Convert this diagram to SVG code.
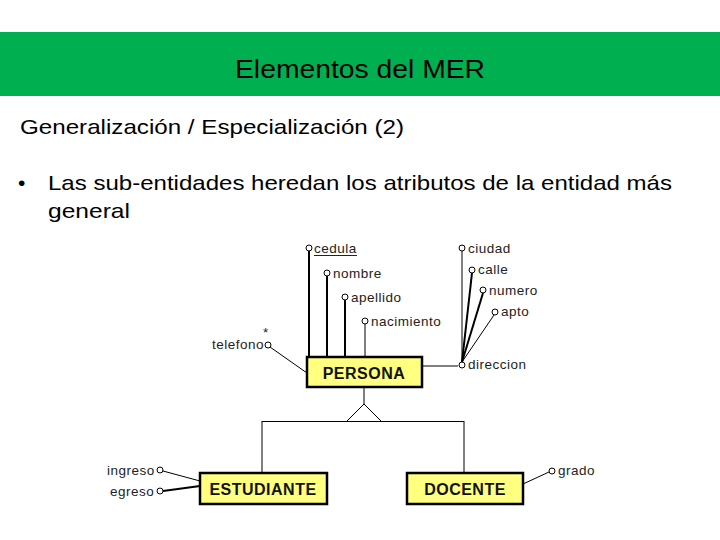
<svg xmlns="http://www.w3.org/2000/svg" width="720" height="540" viewBox="0 0 720 540">
<style>
.ttl{font-family:"Liberation Sans",Arial,sans-serif;fill:#000}
.lbl{font-family:"Liberation Sans",Arial,sans-serif;font-size:13.5px;letter-spacing:0.5px;fill:#222}
.ent{font-family:"Liberation Sans",Arial,sans-serif;font-size:16px;font-weight:bold;letter-spacing:0.5px;fill:#111;text-anchor:middle}
.box{fill:#FFFF80;stroke:#000;stroke-width:2.5}
.ln{stroke:#000;stroke-width:1;fill:none}
.lnb{stroke:#000;stroke-width:2;fill:none}
.at{fill:#fff;stroke:#000;stroke-width:1}
</style>
<rect x="0" y="0" width="720" height="540" fill="#fff"/>
<rect x="0" y="32" width="720" height="64" fill="#00B050"/>
<text class="ttl" x="360" y="78" font-size="26" text-anchor="middle" textLength="250" lengthAdjust="spacingAndGlyphs">Elementos del MER</text>
<text class="ttl" x="20" y="134" font-size="21" textLength="384" lengthAdjust="spacingAndGlyphs">Generalización / Especialización (2)</text>
<text class="ttl" x="18" y="190" font-size="21">•</text>
<text class="ttl" x="48" y="190" font-size="21" textLength="624" lengthAdjust="spacingAndGlyphs">Las sub-entidades heredan los atributos de la entidad más</text>
<text class="ttl" x="48" y="218" font-size="21" textLength="82" lengthAdjust="spacingAndGlyphs">general</text>

<g id="connectors">
  <line class="lnb" x1="309" y1="251" x2="309" y2="357"/>
  <line class="lnb" x1="327" y1="276" x2="327" y2="357"/>
  <line class="lnb" x1="345" y1="300" x2="345" y2="357"/>
  <line class="ln" x1="365" y1="324" x2="365" y2="357"/>
  <line class="ln" x1="270" y1="347" x2="307" y2="373"/>
  <line class="ln" x1="422" y1="366" x2="458" y2="366"/>
  <line class="ln" x1="462" y1="251" x2="462" y2="362"/>
  <line class="lnb" x1="472" y1="273" x2="462" y2="362" stroke-width="1.6"/>
  <line class="lnb" x1="483" y1="293" x2="462" y2="362" stroke-width="1.4"/>
  <line class="ln" x1="494" y1="315" x2="462" y2="362"/>
  <line class="ln" x1="364" y1="387" x2="364" y2="404"/>
  <polyline class="ln" points="347,421 364,404 381,421"/>
  <line class="ln" x1="262" y1="421.5" x2="464" y2="421.5"/>
  <line class="ln" x1="262" y1="421" x2="262" y2="473"/>
  <line class="ln" x1="464" y1="421" x2="464" y2="473"/>
  <line class="ln" x1="163" y1="471" x2="200" y2="481"/>
  <line class="lnb" x1="163" y1="491" x2="200" y2="486" stroke-width="1.5"/>
  <line class="ln" x1="523" y1="484" x2="549" y2="472"/>
</g>

<g id="persona">
  <rect class="box" x="307" y="357" width="115" height="30"/>
  <text class="ent" x="364" y="379">PERSONA</text>
</g>
<g id="estudiante">
  <rect class="box" x="200" y="473" width="127" height="31"/>
  <text class="ent" x="263" y="495">ESTUDIANTE</text>
</g>
<g id="docente">
  <rect class="box" x="407" y="473" width="116" height="31"/>
  <text class="ent" x="465" y="495">DOCENTE</text>
</g>

<g id="attr-cedula">
  <circle class="at" cx="309" cy="248" r="3"/>
  <text class="lbl" x="314" y="253">cedula</text>
  <line x1="314" y1="255.5" x2="357" y2="255.5" stroke="#222" stroke-width="1"/>
</g>
<g id="attr-nombre">
  <circle class="at" cx="327" cy="273" r="3"/>
  <text class="lbl" x="333" y="278">nombre</text>
</g>
<g id="attr-apellido">
  <circle class="at" cx="345" cy="297" r="3"/>
  <text class="lbl" x="351" y="302">apellido</text>
</g>
<g id="attr-nacimiento">
  <circle class="at" cx="365" cy="321" r="3"/>
  <text class="lbl" x="371" y="326">nacimiento</text>
</g>
<g id="attr-telefono">
  <circle class="at" cx="268" cy="345" r="3"/>
  <text class="lbl" x="212" y="349" font-size="13" letter-spacing="0">telefono</text>
  <text class="lbl" x="263" y="337" font-size="8" letter-spacing="0">*</text>
</g>
<g id="attr-direccion">
  <circle class="at" cx="462" cy="365" r="3"/>
  <text class="lbl" x="468" y="369">direccion</text>
</g>
<g id="attr-ciudad">
  <circle class="at" cx="462" cy="248" r="3"/>
  <text class="lbl" x="468" y="253">ciudad</text>
</g>
<g id="attr-calle">
  <circle class="at" cx="472" cy="270" r="3"/>
  <text class="lbl" x="478" y="274">calle</text>
</g>
<g id="attr-numero">
  <circle class="at" cx="483" cy="290" r="3"/>
  <text class="lbl" x="489" y="295">numero</text>
</g>
<g id="attr-apto">
  <circle class="at" cx="495" cy="312" r="3"/>
  <text class="lbl" x="501" y="316">apto</text>
</g>
<g id="attr-ingreso">
  <circle class="at" cx="160" cy="470" r="3"/>
  <text class="lbl" x="107" y="475">ingreso</text>
</g>
<g id="attr-egreso">
  <circle class="at" cx="160" cy="491" r="3"/>
  <text class="lbl" x="110" y="496">egreso</text>
</g>
<g id="attr-grado">
  <circle class="at" cx="552" cy="471" r="3"/>
  <text class="lbl" x="558" y="475">grado</text>
</g>
</svg>
